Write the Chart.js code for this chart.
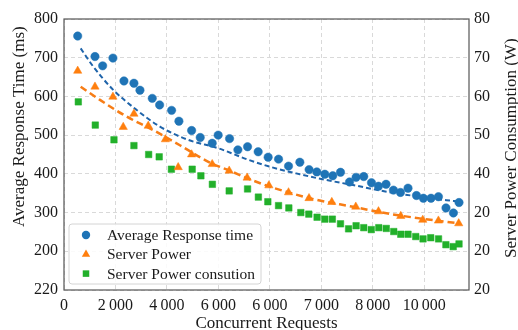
<!DOCTYPE html>
<html><head><meta charset="utf-8">
<script src="https://cdn.jsdelivr.net/npm/chart.js@4.4.1/dist/chart.umd.min.js"></script>
<style>html,body{margin:0;padding:0;background:#fff}#wrap{width:518px;height:330px}</style>
</head><body><div id="wrap"><canvas id="c" width="518" height="330"></canvas></div>
<script>
// ---- tick labels (as printed in the reference) ----
const xTickValues = [0, 2000, 4000, 6000, 8000, 10000, 12000, 14000];
const xTickLabels = ['0','2\u2009000','4\u2009000','6\u2009000','6\u2009000','7\u2009000','8\u2009000','10\u2009000'];
const leftTickLabels = ['220','200','300','400','500','600','700','800'];   // values 100..800
const rightTickLabels = ['20','20','20','40','50','60','70','80'];         // values 10..80

// ---- axis titles ----
const xTitle = 'Concurrent Requests';
const yLeftTitle = 'Average Response Time (ms)';
const yRightTitle = 'Server Power Consumption (W)';

// ---- Average Response time (ms) ----
const respX = [532,1204,1502,1902,2330,2718,2952,3430,3716,4182,4466,4960,5294,5760,5992,6434,6758,7134,7546,7934,8338,8726,9166,9526,9826,10136,10446,10746,11096,11352,11650,11950,12222,12516,12804,13076,13370,13698,13968,14264,14552,14846,15134,15352];
const respY = [756,703,679,699,640,634,616,595,578,564,536,512,494,479,500,491,462,470,457,443,438,420,430,411,405,399,395,404,379,391,393,377,368,373,358,352,363,344,337,337,341,312,299,326];

// ---- Server Power (W) ----
const powX = [532,1204,1902,2302,2718,3274,3942,4438,4960,5760,6420,7118,7962,8726,9522,10408,11340,12222,13088,13942,14552,15340];
const powY = [66.6,62.5,59.9,52.1,55.5,52.4,48.9,41.7,45.0,42.5,40.8,39.0,37.0,35.2,33.7,32.7,31.5,30.3,29.1,28.1,27.9,27.2];

// ---- Server Power consution (W) ----
const consX = [556,1216,1942,2718,3290,3700,4174,4982,5320,5766,6420,7134,7554,7922,8338,8738,9204,9514,9836,10136,10428,10746,11060,11352,11650,11942,12234,12524,12816,13088,13370,13670,13954,14252,14556,14842,15126,15352];
const consY = [58.6,52.6,48.8,47.3,45.0,44.4,41.2,41.2,39.5,37.3,35.6,36.1,34.0,32.8,31.8,31.2,30.0,29.6,28.8,28.3,28.3,27.1,25.8,26.6,26.1,25.6,26.1,25.9,25.1,24.4,24.4,23.8,23.2,23.5,23.2,21.7,21.2,21.9];

// ---- dashed trend curves ----
const respTrendX = [648,1138,1914,2824,3728,4820,6000,7096,8128,9166,10200,11234,12532,13826,14862,15300];
const respTrendY = [724,677,617,565,522,488,466,438,416,399,384,371,354,341,332,329];
const powTrendX = [648,1398,2434,3468,4504,5670,6446,7224,8000,8776,9554,9940,11234,12532,13826,15378];
const powTrendY = [62.5,59.1,54.8,51.3,47.4,42.9,40.8,38.6,36.7,35.1,33.7,33.1,31.5,29.8,28.5,27.2];

const zip = (xs, ys) => xs.map((x, i) => ({x, y: ys[i]}));

const BLUE = '#1f74b6', ORANGE = '#ff7f0e', GREEN = '#22b02a';
const FONT = 'Liberation Serif';
const TXT = '#1a1a1a';

const insideLegend = {
  id: 'insideLegend',
  afterDatasetsDraw(chart) {
    const {ctx, chartArea: a} = chart;
    ctx.save();
    ctx.strokeStyle = '#555';
    ctx.lineWidth = 1.2;
    ctx.strokeRect(a.left, a.top, a.right - a.left, a.bottom - a.top);
    const items = chart.data.datasets.filter(d => d.inLegend);
    const bx = a.left + 5, by = a.bottom - 66, bw = 192, bh = 60, r = 3;
    ctx.beginPath();
    ctx.moveTo(bx + r, by);
    ctx.arcTo(bx + bw, by, bx + bw, by + bh, r);
    ctx.arcTo(bx + bw, by + bh, bx, by + bh, r);
    ctx.arcTo(bx, by + bh, bx, by, r);
    ctx.arcTo(bx, by, bx + bw, by, r);
    ctx.closePath();
    ctx.fillStyle = 'rgba(255,255,255,0.85)';
    ctx.fill();
    ctx.strokeStyle = '#d4d4d4';
    ctx.lineWidth = 1;
    ctx.stroke();
    items.forEach((d, i) => {
      const cx = bx + 17, cy = by + 11 + i * 19.3;
      ctx.fillStyle = d.backgroundColor;
      ctx.beginPath();
      const rad = d.pointRadius;
      if (d.pointStyle === 'circle') {
        ctx.arc(cx, cy, rad, 0, Math.PI * 2);
      } else if (d.pointStyle === 'triangle') {
        for (let k = 0; k < 3; k++) {
          const ang = k * 2 * Math.PI / 3;
          const px = cx + Math.sin(ang) * rad, py = cy - Math.cos(ang) * rad;
          k === 0 ? ctx.moveTo(px, py) : ctx.lineTo(px, py);
        }
        ctx.closePath();
      } else {
        const s = Math.SQRT1_2 * rad;
        ctx.rect(cx - s, cy - s, 2 * s, 2 * s);
      }
      ctx.fill();
      ctx.fillStyle = TXT;
      ctx.font = '15.5px "' + FONT + '"';
      ctx.textBaseline = 'middle';
      ctx.textAlign = 'left';
      ctx.fillText(d.label, bx + 38, cy + 1);
    });
    ctx.restore();
  }
};

// axis titles drawn so both vertical titles read bottom-to-top, as in the reference
const axisTitles = {
  id: 'axisTitles',
  afterDraw(chart) {
    const {ctx, chartArea: a} = chart;
    ctx.save();
    ctx.fillStyle = TXT;
    ctx.font = '17px "' + FONT + '"';
    ctx.textBaseline = 'alphabetic';
    ctx.textAlign = 'center';
    ctx.fillText(xTitle, (a.left + a.right) / 2, chart.height - 2.5);
    // left title
    ctx.save();
    ctx.translate(24, a.bottom - 63);
    ctx.rotate(-Math.PI / 2);
    ctx.textAlign = 'left';
    ctx.fillText(yLeftTitle, 0, 0);
    ctx.restore();
    // right title
    ctx.save();
    ctx.translate(a.right + 47, a.bottom - 32);
    ctx.rotate(-Math.PI / 2);
    ctx.textAlign = 'left';
    ctx.fillText(yRightTitle, 0, 0);
    ctx.restore();
    ctx.restore();
  }
};

new Chart(document.getElementById('c'), {
  type: 'scatter',
  data: {
    datasets: [
      {label: 'Average Response time', data: zip(respX, respY), yAxisID: 'y', inLegend: true,
       pointStyle: 'circle', pointRadius: 4.2, backgroundColor: BLUE, borderColor: BLUE, borderWidth: 0.5, order: 1},
      {label: 'Server Power', data: zip(powX, powY), yAxisID: 'y1', inLegend: true,
       pointStyle: 'triangle', pointRadius: 4.8, backgroundColor: ORANGE, borderColor: ORANGE, borderWidth: 0.5, order: 2},
      {label: 'Server Power consution', data: zip(consX, consY), yAxisID: 'y1', inLegend: true,
       pointStyle: 'rect', pointRadius: 4.6, backgroundColor: GREEN, borderColor: GREEN, borderWidth: 0.5, order: 3},
      {label: 'resp trend', data: zip(respTrendX, respTrendY), yAxisID: 'y', showLine: true, pointRadius: 0,
       borderColor: '#1f64aa', backgroundColor: '#1f64aa', borderWidth: 2, borderDash: [5, 3], cubicInterpolationMode: 'monotone', order: 4},
      {label: 'power trend', data: zip(powTrendX, powTrendY), yAxisID: 'y1', showLine: true, pointRadius: 0,
       borderColor: '#f77d16', backgroundColor: '#f77d16', borderWidth: 2.5, borderDash: [7, 4], cubicInterpolationMode: 'monotone', order: 5}
    ]
  },
  options: {
    responsive: false,
    animation: false,
    devicePixelRatio: 1,
    layout: {padding: {top: 19, left: 0, right: 0, bottom: 0}},
    plugins: {legend: {display: false}, tooltip: {enabled: false}},
    scales: {
      x: {
        type: 'linear', position: 'bottom', min: 0, max: 15740,
        afterBuildTicks: s => { s.ticks = xTickValues.map(v => ({value: v})); },
        afterFit: s => { s.height = 40; },
        ticks: {autoSkip: false, maxRotation: 0, minRotation: 0,
                padding: 6, color: TXT, font: {family: FONT, size: 16},
                callback: (v) => xTickLabels[xTickValues.indexOf(v)] ?? ''},
        grid: {color: '#d9d9d9', lineWidth: 1, drawTicks: false},
        border: {display: false, dash: [4, 3]},
        title: {display: false}
      },
      y: {
        position: 'left', min: 100, max: 800,
        afterFit: s => { s.width = 64; },
        ticks: {stepSize: 100, padding: 6, color: TXT, font: {family: FONT, size: 16},
                callback: v => leftTickLabels[Math.round((v - 100) / 100)] ?? ''},
        grid: {color: '#d9d9d9', lineWidth: 1, drawTicks: false},
        border: {display: false, dash: [4, 3]},
        title: {display: false}
      },
      y1: {
        position: 'right', min: 10, max: 80,
        afterFit: s => { s.width = 49; },
        ticks: {stepSize: 10, padding: 5, color: TXT, font: {family: FONT, size: 16},
                callback: v => rightTickLabels[Math.round((v - 10) / 10)] ?? ''},
        grid: {display: false, drawTicks: false},
        border: {display: false},
        title: {display: false}
      }
    }
  },
  plugins: [insideLegend, axisTitles]
});
</script>
</body></html>
